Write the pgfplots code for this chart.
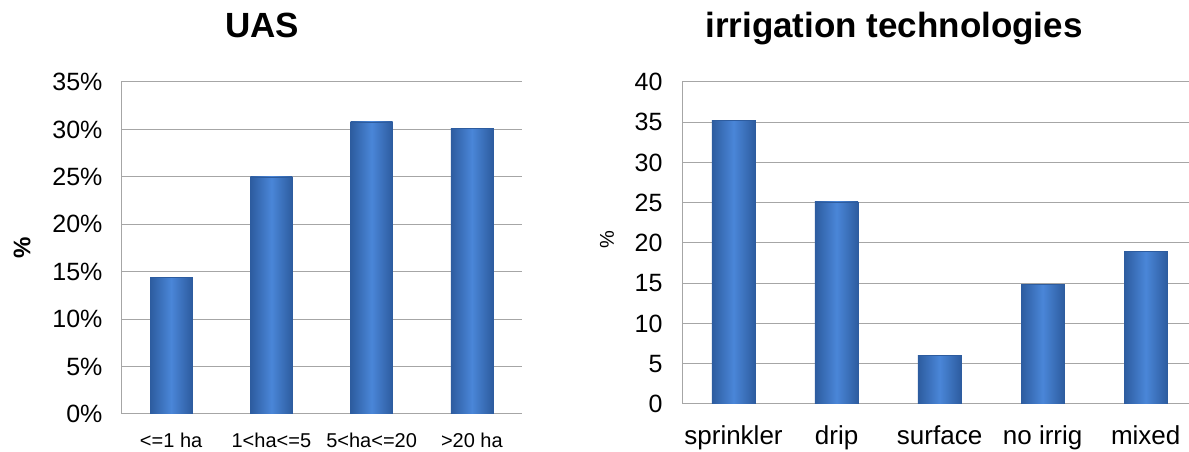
\documentclass[border=0pt]{standalone}
\usepackage{pgfplots}
\pgfplotsset{compat=1.18}
\usepackage{fontspec}
\setmainfont{Liberation Sans}
\definecolor{barmid}{HTML}{4A86D8}
\definecolor{baredge}{HTML}{2D5C9F}
\definecolor{gridgray}{HTML}{A6A6A6}

\pgfplotsset{
  barchart/.style={
    scale only axis,
    ybar, bar width=0.42, bar shift=0pt,
    axis x line*=bottom, axis y line*=left,
    axis line style={gridgray, line width=1pt, -},
    ymajorgrids, grid style={gridgray, line width=1pt},
    major tick length=0pt,
    xtick={0,...,4},
    xmin=-0.5,
    /pgf/number format/assume math mode=true,
    y tick label style={font=\fontsize{25}{28}\selectfont},
    x tick label style={anchor=base},
  },
  bluebar/.style={draw=baredge, line width=0.6pt, left color=baredge, right color=baredge, middle color=barmid},
}

\begin{document}
\begin{tikzpicture}[x=1pt, y=1pt]
\useasboundingbox (0,0) rectangle (1189,452);

% left: UAS
\begin{axis}[barchart,
  at={(121pt,38pt)}, anchor=south west,
  width=401pt, height=332pt,
  xmax=3.5, ymin=0, ymax=35, ytick={0,5,...,35},
  yticklabel={\pgfmathprintnumber{\tick}\%},
  y tick label style={xshift=-15pt},
  xticklabels={{<=1 ha},{1<ha<=5},{5<ha<=20},{>20 ha}},
  x tick label style={font=\fontsize{20}{23}\selectfont, yshift=-34pt},
]
\addplot[bluebar] coordinates {(0,14.4)};
\addplot[bluebar] coordinates {(1,25.0)};
\addplot[bluebar] coordinates {(2,30.8)};
\addplot[bluebar] coordinates {(3,30.1)};
\end{axis}

% right: irrigation technologies
\begin{axis}[barchart,
  at={(682pt,48pt)}, anchor=south west,
  width=507pt, height=322pt,
  xmax=4.42, ymin=0, ymax=40, ytick={0,5,...,40},
  y tick label style={xshift=-16pt},
  xticklabels={sprinkler,drip,surface,no irrig,mixed},
  x tick label style={font=\fontsize{26}{29}\selectfont, yshift=-41pt},
]
\addplot[bluebar] coordinates {(0,35.2)};
\addplot[bluebar] coordinates {(1,25.1)};
\addplot[bluebar] coordinates {(2,6.0)};
\addplot[bluebar] coordinates {(3,14.9)};
\addplot[bluebar] coordinates {(4,19.0)};
\end{axis}

\node[font=\bfseries\fontsize{35}{40}\selectfont, anchor=base] at (262,414) {UAS};
\node[font=\bfseries\fontsize{35}{40}\selectfont, anchor=base] at (894,414) {irrigation technologies};
\node[font=\bfseries\fontsize{24}{27}\selectfont, rotate=90] at (22,204) {\%};
\node[font=\fontsize{20}{23}\selectfont, rotate=90] at (607,212) {\%};
\end{tikzpicture}
\end{document}
